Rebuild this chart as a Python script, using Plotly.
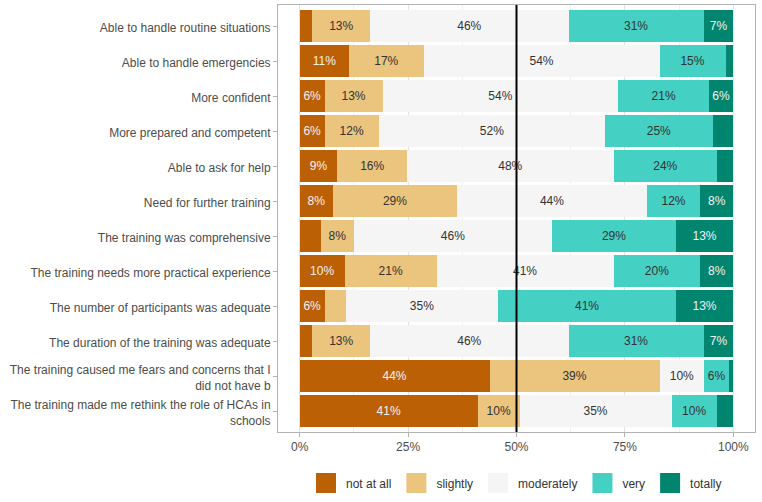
import plotly.graph_objects as go

# ---------------- data ----------------
items = [
    "Able to handle routine situations",
    "Able to handle emergencies",
    "More confident",
    "More prepared and competent",
    "Able to ask for help",
    "Need for further training",
    "The training was comprehensive",
    "The training needs more practical experience",
    "The number of participants was adequate",
    "The duration of the training was adequate",
    "The training caused me fears and concerns that I<br>did not have b",
    "The training made me rethink the role of HCAs in<br>schools",
]
levels = ["not at all", "slightly", "moderately", "very", "totally"]

not_at_all = [2.9, 11.4, 5.8, 5.8, 8.7, 7.7, 4.9, 10.4, 5.8, 2.9, 43.8, 41.1]
slightly   = [13.4, 17.2, 13.3, 12.4, 16.1, 28.6, 7.6, 21.2, 4.8, 13.4, 39.2, 9.6]
moderately = [45.7, 54.4, 54.4, 52.3, 47.6, 43.8, 45.7, 40.8, 35.2, 45.7, 10.3, 35.1]
very       = [31.2, 15.2, 20.9, 24.7, 23.9, 12.3, 28.6, 20.0, 41.0, 31.2, 5.7, 10.4]
totally    = [6.8, 1.8, 5.6, 4.8, 3.7, 7.6, 13.2, 7.6, 13.2, 6.8, 1.0, 3.8]

series = [not_at_all, slightly, moderately, very, totally]
colors = ["#BC6006", "#EBC47E", "#F5F5F5", "#45D0C4", "#01856F"]
label_colors = ["#F2F2F2", "#333333", "#333333", "#333333", "#F2F2F2"]

x_ticks = [0, 25, 50, 75, 100]
x_tick_labels = ["0%", "25%", "50%", "75%", "100%"]

FONT = "Liberation Sans, Arial, Helvetica, sans-serif"

fig = go.Figure()
for name, vals, col, lc in zip(levels, series, colors, label_colors):
    txt = [f"{v:.0f}%" if v >= 5.5 else "" for v in vals]
    fig.add_trace(go.Bar(
        y=items, x=vals, orientation="h", name=name,
        marker=dict(color=col, line=dict(width=0)),
        text=txt, textposition="inside", insidetextanchor="middle",
        textangle=0, textfont=dict(size=12, color=lc, family=FONT),
        showlegend=False, hoverinfo="skip",
    ))
    # legend proxy
    fig.add_trace(go.Scatter(
        x=[None], y=[None], mode="markers", name=name,
        marker=dict(symbol="square", size=16, color=col,
                    line=dict(width=4, color=col)),
        showlegend=True,
    ))

fig.add_vline(x=50, line=dict(color="black", width=2))

fig.update_layout(
    width=762, height=502, autosize=False,
    margin=dict(l=278, r=7, t=5, b=69),
    barmode="stack", bargap=0.1,
    plot_bgcolor="white", paper_bgcolor="white",
    font=dict(family=FONT, size=12, color="#4D4D4D"),
    uniformtext=dict(minsize=12, mode="show"),
    legend=dict(orientation="h", x=0.5, xanchor="center",
                y=-0.117, yanchor="middle",
                font=dict(size=12, color="#333333"),
                itemwidth=30, traceorder="normal"),
)
fig.update_xaxes(
    range=[-5, 105], tickvals=x_ticks, ticktext=x_tick_labels,
    showgrid=True, gridcolor="#E3E3E3", gridwidth=1,
    minor=dict(tickvals=[12.5, 37.5, 62.5, 87.5], showgrid=True,
               gridcolor="#F0F0F0", gridwidth=1),
    zeroline=False, showline=True, linecolor="#B3B3B3", linewidth=1,
    mirror=True, ticks="outside", ticklen=4, tickcolor="#B3B3B3",
    tickfont=dict(size=12, color="#4D4D4D"),
)
fig.update_yaxes(
    type="category", categoryorder="array", categoryarray=items,
    range=[11.6, -0.6], showgrid=False, zeroline=False,
    showline=True, linecolor="#B3B3B3", linewidth=1, mirror=True,
    ticks="outside", ticklen=4, tickcolor="#B3B3B3",
    ticklabelshift=-2,
    tickfont=dict(size=12, color="#4D4D4D"),
)

fig.write_html("out.html")
